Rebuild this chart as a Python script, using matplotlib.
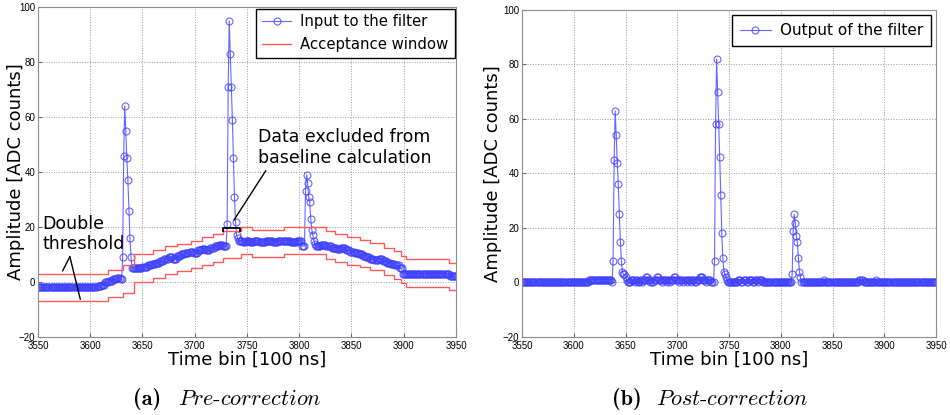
import numpy as np
import matplotlib
matplotlib.use("Agg")
import matplotlib.pyplot as plt

# time bins shown on both panels
t_first = 3550
t_last = 3950

# input to the filter: baseline steps (start bin, value) + pulses (start bin, values)
in_base = [(3550, -2), (3607, -1.5), (3611, -1), (3614, 0), (3618, 0.5), (3622, 1), (3626, 1.5), (3629, 1),
           (3641, 5), (3650, 5.5), (3655, 6), (3659, 6.5), (3663, 7), (3667, 7.5), (3671, 8.5), (3675, 9),
           (3679, 8.5), (3683, 9.5), (3687, 10), (3691, 10.5), (3695, 11), (3699, 10.5), (3703, 11.5),
           (3707, 12), (3711, 11.5), (3715, 12.5), (3719, 13), (3723, 13.5), (3727, 13),
           (3740, 17), (3741, 16), (3742, 15), (3746, 14.5), (3749, 15), (3753, 14.5), (3757, 15),
           (3762, 14.5), (3768, 15), (3775, 14.5), (3780, 15), (3792, 14.5), (3798, 15), (3803, 13),
           (3814, 15), (3815, 14), (3816, 13), (3821, 13.5), (3826, 13), (3831, 12.5), (3836, 12),
           (3840, 12.5), (3845, 11.5), (3849, 11), (3853, 10.5), (3857, 10), (3861, 9.5), (3864, 9),
           (3868, 8.5), (3872, 8), (3876, 8.5), (3880, 7.5), (3884, 7), (3888, 6.5), (3892, 6),
           (3896, 5), (3899, 3), (3944, 2)]
in_pulses = [(3631, [9, 46, 64, 55, 45, 37, 26, 16, 9, 5]),
             (3731, [21, 71, 95, 83, 71, 59, 45, 31, 22]),
             (3806, [33, 39, 36, 31, 29, 23, 19, 17])]

# acceptance window (start bin, upper, lower)
win_edges = [3550, 3617, 3631, 3642, 3660, 3672, 3683, 3696, 3707, 3717, 3727, 3744, 3755, 3785,
             3826, 3834, 3846, 3858, 3868, 3881, 3891, 3897, 3902, 3943]
win_upper = [3, 4.5, 6, 10, 11.5, 13, 14, 15, 16.3, 17.4, 18.7, 20, 19, 20,
             18.5, 17.3, 16.3, 15.4, 14.2, 12.4, 11.1, 9.5, 8.2, 7]
win_lower = [-7, -5.5, -4, 0, 1.5, 3, 4, 5, 6.3, 7.4, 8.7, 10, 9, 10,
             8.5, 7.3, 6.3, 5.4, 4.2, 2.4, 1.1, -0.5, -1.8, -3]

# bins excluded from the baseline calculation (bracket)
excluded = (3727, 3743)

# output of the filter
out_base = [(3550, 0), (3615, 1), (3637, 0), (3652, 0), (3655, 1), (3659, 0), (3660, 1), (3662, 0),
            (3664, 1), (3666, 0), (3667, 1), (3670, 2), (3672, 1), (3674, 0), (3675, 1), (3676, 0),
            (3678, 1), (3680, 2), (3682, 1), (3685, 0), (3686, 1), (3690, 0), (3691, 1), (3693, 0),
            (3694, 1), (3697, 2), (3699, 1), (3702, 0), (3703, 1), (3706, 0), (3707, 1), (3709, 0),
            (3710, 1), (3713, 0), (3714, 1), (3717, 0), (3719, 1), (3722, 2), (3725, 1), (3728, 0),
            (3729, 1), (3733, 0), (3749, 0), (3759, 1), (3762, 0), (3764, 1), (3767, 0), (3769, 1),
            (3773, 0), (3775, 1), (3778, 0), (3779, 1), (3783, 0), (3820, 0), (3842, 1), (3843, 0),
            (3876, 1), (3880, 0), (3892, 1), (3893, 0)]
out_pulses = [(3638, [8, 45, 63, 54, 44, 36, 25, 15, 8, 4, 3, 3, 2, 1]),
              (3736, [8, 58, 82, 70, 58, 46, 32, 18, 9, 4, 3, 2, 1]),
              (3811, [3, 19, 25, 22, 17, 15, 9, 4, 2])]


def build(base, pulses):
    t = np.arange(t_first, t_last + 1)
    y = np.zeros(len(t))
    for i in range(len(base)):
        start, v = base[i]
        stop = base[i + 1][0] if i + 1 < len(base) else t_last + 1
        y[start - t_first:stop - t_first] = v
    for start, vals in pulses:
        y[start - t_first:start - t_first + len(vals)] = vals
    return t, y


t_in, y_in = build(in_base, in_pulses)
t_out, y_out = build(out_base, out_pulses)

blue = (0.25, 0.25, 1.0)
red = (1.0, 0.35, 0.35)


def style(ax, ylab_x):
    ax.set_xlim(t_first, t_last)
    ax.set_ylim(-20, 100)
    ax.set_xticks(np.arange(3550, 3951, 50))
    ax.set_yticks(np.arange(-20, 101, 20))
    ax.grid(True, linestyle=':', color='0.6', linewidth=0.7)
    ax.tick_params(direction='in', length=3, labelsize=7, color='0.4', pad=2)
    ax.tick_params(axis='x', pad=3)
    for lab in ax.get_xticklabels() + ax.get_yticklabels():
        lab.set_family('Liberation Sans')
    for s in ax.spines.values():
        s.set_color('0.55')
    ax.set_xlabel('Time bin [100 ns]', fontsize=13, labelpad=0)
    ax.set_ylabel('Amplitude [ADC counts]', fontsize=13)
    ax.yaxis.set_label_coords(ylab_x, 0.5)


fig = plt.figure(figsize=(9.5, 4.15), dpi=100)
ax1 = fig.add_axes([0.04, 0.188, 0.44, 0.795])
ax2 = fig.add_axes([0.5495, 0.188, 0.4358, 0.788])

# left panel
ax1.plot(t_in, y_in, color=blue, lw=0.8, marker='o', ms=5, mfc='none', mew=0.8, alpha=0.8,
         label='Input to the filter')
ax1.plot(win_edges + [t_last], win_upper + [win_upper[-1]], drawstyle='steps-post', color=red, lw=1,
         label='Acceptance window')
ax1.plot(win_edges + [t_last], win_lower + [win_lower[-1]], drawstyle='steps-post', color=red, lw=1)
style(ax1, -0.031)
leg = ax1.legend(loc='upper right', fontsize=10.7, fancybox=False, edgecolor='k', framealpha=1,
                 borderaxespad=0.1, handlelength=2.0, handletextpad=0.6, labelspacing=0.5)
leg.get_frame().set_linewidth(1)

# bracket for excluded data + annotation
x0, x1 = excluded
ax1.plot([x0, x0, x1, x1], [18.6, 19.8, 19.8, 18.6], color='k', lw=1.3)
ax1.annotate('', xy=(3737.5, 22.5), xytext=(3768, 40.5),
             arrowprops=dict(arrowstyle='-', color='k', lw=1, shrinkA=0, shrinkB=0))
ax1.text(3761, 42, 'Data excluded from\nbaseline calculation', fontsize=12.5, ha='left', va='bottom',
         linespacing=1.15)

# double threshold annotation
ax1.text(3554, 10.5, 'Double\nthreshold', fontsize=12.5, ha='left', va='bottom', linespacing=1.15)
ax1.annotate('', xy=(3573.5, 4), xytext=(3580.5, 9.2),
             arrowprops=dict(arrowstyle='-', color='k', lw=1, shrinkA=0, shrinkB=0))
ax1.annotate('', xy=(3590.5, -6.3), xytext=(3580.5, 9.2),
             arrowprops=dict(arrowstyle='-', color='k', lw=1, shrinkA=0, shrinkB=0))

# right panel
ax2.plot(t_out, y_out, color=blue, lw=0.8, marker='o', ms=5, mfc='none', mew=0.8, alpha=0.8,
         label='Output of the filter')
style(ax2, -0.048)
leg2 = ax2.legend(loc='upper right', fontsize=11, fancybox=False, edgecolor='k', framealpha=1,
                  borderaxespad=0.35, handlelength=2.0, handletextpad=0.6, borderpad=0.5)
leg2.get_frame().set_linewidth(1)

# sub-captions
for x_tag, x_name, tag, name in [(0.140, 0.187, '(a)', 'Pre-correction'),
                                 (0.644, 0.690, '(b)', 'Post-correction')]:
    fig.text(x_tag, 0.039, tag, family='cmb10', fontsize=16, ha='left', va='center')
    fig.text(x_name, 0.039, r'$\mathit{%s}$' % name.replace('-', r'}$-$\mathit{'), family='cmr10',
             math_fontfamily='cm', fontsize=16, ha='left', va='center')

fig.savefig('out.png', dpi=100)
